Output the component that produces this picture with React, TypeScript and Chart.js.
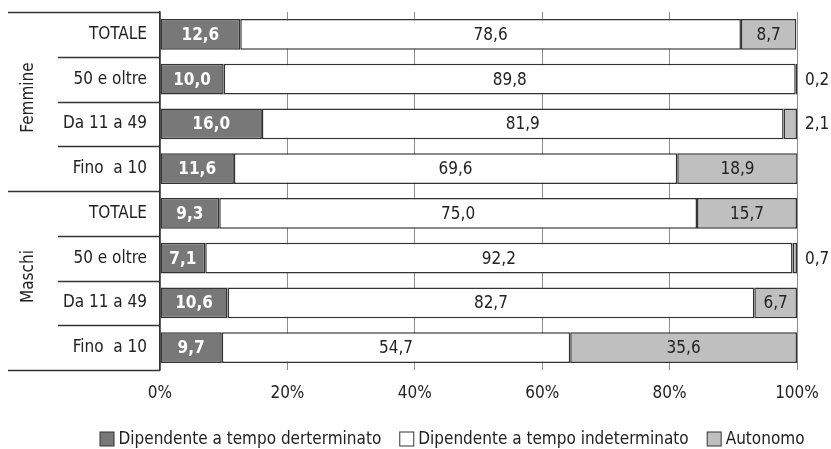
import React, { useEffect, useRef } from "react";
import { Chart, registerables } from "chart.js";

Chart.register(...registerables);

const categories = [
  "TOTALE", "50 e oltre", "Da 11 a 49", "Fino  a 10",
  "TOTALE", "50 e oltre", "Da 11 a 49", "Fino  a 10",
];
const groups = ["Femmine", "Maschi"];
const groupSizes = [4, 4];
const seriesNames = [
  "Dipendente a tempo derterminato",
  "Dipendente a tempo indeterminato",
  "Autonomo",
];
const determinato = [12.6, 10.0, 16.0, 11.6, 9.3, 7.1, 10.6, 9.7];
const indeterminato = [78.6, 89.8, 81.9, 69.6, 75.0, 92.2, 82.7, 54.7];
const autonomo = [8.7, 0.2, 2.1, 18.9, 15.7, 0.7, 6.7, 35.6];
const xTicks = [0, 20, 40, 60, 80, 100];

const FONT = '"Liberation Sans Narrow", "Arial Narrow", "DejaVu Sans Condensed", sans-serif';
const FS = 17;
const COLORS = ["#787878", "#ffffff", "#bfbfbf"];
const LABEL_COLORS = ["#ffffff", "#222222", "#222222"];
const BORDER = "#333333";

const fmt = (v: number) => v.toFixed(1).replace(".", ",");

const decorPlugin = {
  id: "decor",
  afterDatasetsDraw(chart: any) {
    const { ctx, chartArea } = chart;
    ctx.save();
    chart.data.datasets.forEach((ds: any, di: number) => {
      const meta = chart.getDatasetMeta(di);
      meta.data.forEach((bar: any, i: number) => {
        const v = ds.data[i] as number;
        const p = bar.getProps(["x", "y", "base"], true);
        ctx.font = (di === 0 ? "bold " : "") + FS + "px " + FONT;
        ctx.textBaseline = "middle";
        if (v < 3) {
          ctx.fillStyle = "#222222";
          ctx.textAlign = "left";
          ctx.fillText(fmt(v), chartArea.right + 8, p.y + 1);
        } else {
          ctx.fillStyle = LABEL_COLORS[di];
          ctx.textAlign = "center";
          ctx.fillText(fmt(v), (p.x + p.base) / 2, p.y + 1);
        }
      });
    });
    ctx.restore();
  },
  afterDraw(chart: any) {
    const { ctx, chartArea } = chart;
    const y = chart.scales.y;
    const n = categories.length;
    const bounds: number[] = [];
    for (let i = 0; i <= n; i++) {
      if (i === 0) bounds.push(chartArea.top);
      else if (i === n) bounds.push(chartArea.bottom);
      else bounds.push((y.getPixelForValue(i - 1) + y.getPixelForValue(i)) / 2);
    }
    const groupEdges = [0];
    groupSizes.forEach((s) => groupEdges.push(groupEdges[groupEdges.length - 1] + s));
    ctx.save();
    ctx.strokeStyle = BORDER;
    ctx.lineWidth = 1.5;
    bounds.forEach((b, i) => {
      const x0 = groupEdges.includes(i) ? 8 : 58;
      ctx.beginPath();
      ctx.moveTo(x0, Math.round(b) + 0.5);
      ctx.lineTo(chartArea.left, Math.round(b) + 0.5);
      ctx.stroke();
    });
    ctx.fillStyle = "#222222";
    ctx.font = FS + "px " + FONT;
    ctx.textAlign = "center";
    ctx.textBaseline = "middle";
    groups.forEach((g, gi) => {
      const cy = (bounds[groupEdges[gi]] + bounds[groupEdges[gi + 1]]) / 2 - 4;
      ctx.save();
      ctx.translate(29, cy);
      ctx.rotate(-Math.PI / 2);
      ctx.fillText(g, 0, 0);
      ctx.restore();
    });
    // legend
    const box = 15;
    const gapBox = 4;
    const gapItem = 18;
    ctx.font = FS + "px " + FONT;
    const widths = seriesNames.map((s) => box + gapBox + ctx.measureText(s).width);
    const total = widths.reduce((a, b) => a + b, 0) + gapItem * (seriesNames.length - 1);
    let x = 452 - total / 2;
    const ly = 439;
    seriesNames.forEach((s, i) => {
      ctx.fillStyle = COLORS[i];
      ctx.fillRect(x + 0.5, ly - box / 2 + 0.5, box - 1, box - 1);
      ctx.strokeStyle = BORDER;
      ctx.lineWidth = 1;
      ctx.strokeRect(x + 0.5, ly - box / 2 + 0.5, box - 1, box - 1);
      ctx.fillStyle = "#222222";
      ctx.textAlign = "left";
      ctx.textBaseline = "middle";
      ctx.fillText(s, x + box + gapBox, ly + 1);
      x += widths[i] + gapItem;
    });
    ctx.restore();
  },
};

export default function App() {
  const ref = useRef<HTMLCanvasElement | null>(null);
  useEffect(() => {
    if (!ref.current) return;
    const series = [determinato, indeterminato, autonomo];
    const chart = new Chart(ref.current, {
      type: "bar",
      data: {
        labels: categories,
        datasets: series.map((d, i) => ({
          label: seriesNames[i],
          data: d,
          backgroundColor: COLORS[i],
          borderColor: BORDER,
          borderWidth: 1.5,
          borderSkipped: false,
          barPercentage: 0.69,
          categoryPercentage: 1,
        })),
      },
      options: {
        indexAxis: "y",
        responsive: false,
        animation: false,
        devicePixelRatio: 1,
        layout: { padding: { left: 0, right: 34, top: 12, bottom: 0 } },
        plugins: { legend: { display: false }, tooltip: { enabled: false } },
        scales: {
          x: {
            stacked: true,
            min: 0,
            max: 100,
            afterBuildTicks: (scale: any) => {
              scale.ticks = xTicks.map((v) => ({ value: v }));
            },
            afterFit: (scale: any) => {
              scale.height = 79;
              scale.paddingLeft = 0;
              scale.paddingRight = 0;
            },
            grid: { color: "#8c8c8c", lineWidth: 1, drawTicks: false },
            border: { display: false },
            ticks: {
              padding: 13,
              color: "#222222",
              font: { family: FONT, size: FS },
              callback: (v: any) => v + "%",
            },
          },
          y: {
            stacked: true,
            afterFit: (scale: any) => {
              scale.width = 160;
              scale.paddingTop = 0;
              scale.paddingBottom = 0;
            },
            grid: { display: false, drawTicks: false },
            border: { display: true, color: BORDER, width: 1.5 },
            ticks: {
              padding: 13,
              color: "#222222",
              font: { family: FONT, size: FS },
            },
          },
        },
      },
      plugins: [decorPlugin],
    });
    return () => chart.destroy();
  }, []);
  return (
    <div style={{ position: "fixed", left: 0, top: 0, width: 831, height: 449, background: "#fff" }}>
      <canvas ref={ref} width={831} height={449} style={{ width: 831, height: 449, display: "block" }} />
    </div>
  );
}
